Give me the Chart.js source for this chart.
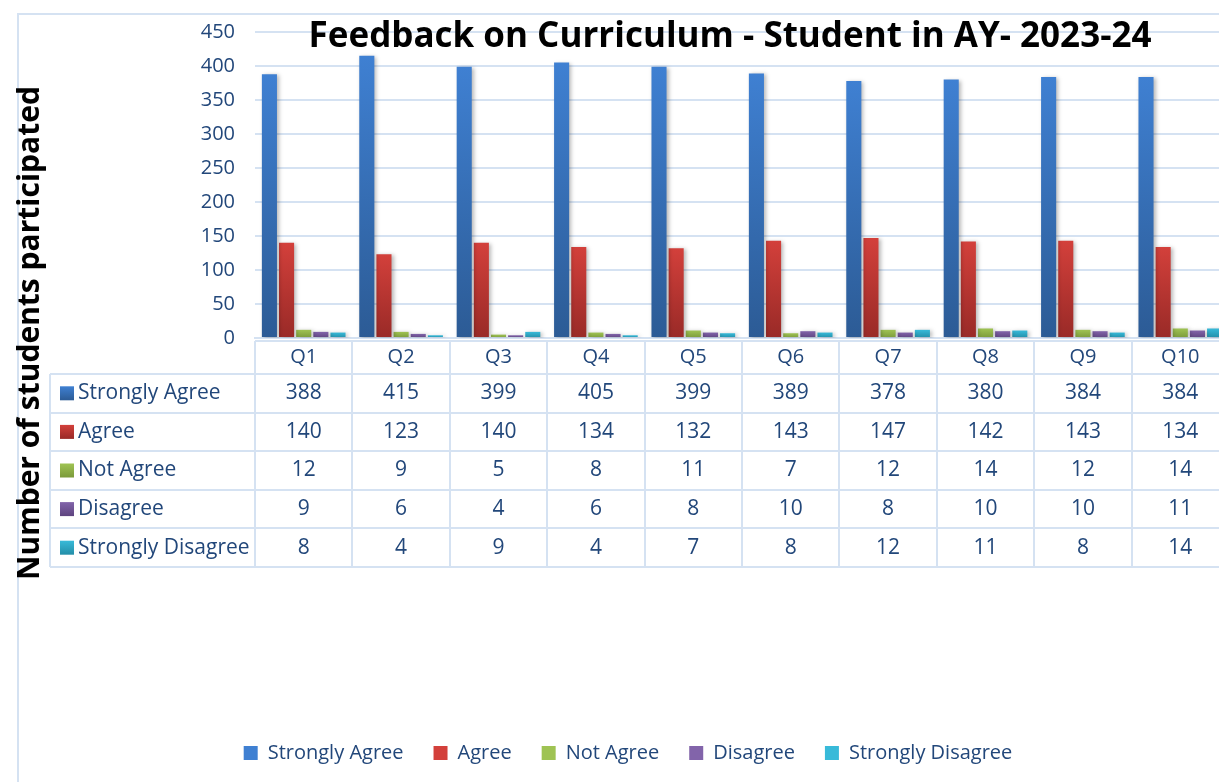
<!DOCTYPE html>
<html lang="en">
<head>
  <meta charset="UTF-8" />
  <title>Feedback on Curriculum - Student in AY- 2023-24</title>
  <script src="https://cdn.jsdelivr.net/npm/chart.js"></script>
  <style>
    html, body {
      margin: 0;
      padding: 0;
      background: #ffffff;
      overflow: hidden;
    }
    #chart {
      display: block;
    }
  </style>
</head>
<body>
  <canvas id="chart" width="1240" height="782"></canvas>

  <script>
    // data
    const questions = ['Q1', 'Q2', 'Q3', 'Q4', 'Q5', 'Q6', 'Q7', 'Q8', 'Q9', 'Q10'];
    const seriesNames = ['Strongly Agree', 'Agree', 'Not Agree', 'Disagree', 'Strongly Disagree'];
    const stronglyAgree = [388, 415, 399, 405, 399, 389, 378, 380, 384, 384];
    const agree = [140, 123, 140, 134, 132, 143, 147, 142, 143, 134];
    const notAgree = [12, 9, 5, 8, 11, 7, 12, 14, 12, 14];
    const disagree = [9, 6, 4, 6, 8, 10, 8, 10, 10, 11];
    const stronglyDisagree = [8, 4, 9, 4, 7, 8, 12, 11, 8, 14];
    const yTicks = [0, 50, 100, 150, 200, 250, 300, 350, 400, 450];

    const chartTitle = 'Feedback on Curriculum - Student in AY- 2023-24';
    const yTitle = 'Number of students participated';

    const seriesValues = [stronglyAgree, agree, notAgree, disagree, stronglyDisagree];
    // top / bottom colours of the bar gradients
    const palette = [
      ['#3f80d2', '#2c5b95'],
      ['#d3403b', '#992a27'],
      ['#9fc353', '#7b9a3a'],
      ['#8264aa', '#5e447f'],
      ['#38bad9', '#238ea8']
    ];

    const textColor = '#22477a';
    const lineColor = '#d5e2f2';
    const font = "'Open Sans', 'Noto Sans', sans-serif";

    function barFill(ctx) {
      const chart = ctx.chart;
      const c = palette[ctx.datasetIndex];
      const yScale = chart.scales && chart.scales.y;
      if (!yScale || !ctx.parsed) return c[0];
      const top = yScale.getPixelForValue(ctx.parsed.y);
      const bottom = yScale.getPixelForValue(0);
      if (!isFinite(top) || bottom - top < 1) return c[0];
      const g = chart.ctx.createLinearGradient(0, top, 0, bottom);
      g.addColorStop(0, c[0]);
      g.addColorStop(1, c[1]);
      return g;
    }

    // outer frame, data table, overlaid title and the vertical axis title
    const decorations = {
      id: 'decorations',
      beforeDraw(chart) {
        const ctx = chart.ctx;
        ctx.save();
        ctx.strokeStyle = lineColor;
        ctx.lineWidth = 2;
        ctx.beginPath();
        ctx.moveTo(18, chart.height);
        ctx.lineTo(18, 14);
        ctx.lineTo(chart.width, 14);
        ctx.stroke();
        ctx.restore();
      },
      beforeDatasetsDraw(chart) {
        const ctx = chart.ctx;
        ctx.save();
        ctx.shadowColor = 'rgba(0,0,0,0.28)';
        ctx.shadowBlur = 4;
        ctx.shadowOffsetX = 2;
        ctx.shadowOffsetY = 1;
      },
      afterDatasetsDraw(chart) {
        chart.ctx.restore();
      },
      afterDraw(chart) {
        const ctx = chart.ctx;
        const x = chart.scales.x;
        const area = chart.chartArea;
        const colW = (x.right - x.left) / questions.length;
        const top = area.bottom + 3;
        const headH = 33;
        const rowH = 38.6;
        const tableLeft = 50;
        const bottom = top + headH + rowH * seriesNames.length;

        ctx.save();
        ctx.strokeStyle = lineColor;
        ctx.lineWidth = 2;
        ctx.beginPath();
        ctx.moveTo(x.left, top);
        ctx.lineTo(x.right, top);
        for (let r = 0; r <= seriesNames.length; r++) {
          const y = Math.round(top + headH + r * rowH);
          ctx.moveTo(tableLeft, y);
          ctx.lineTo(x.right, y);
        }
        for (let i = 0; i <= questions.length; i++) {
          const cx = Math.round(x.left + i * colW);
          ctx.moveTo(cx, top);
          ctx.lineTo(cx, bottom);
        }
        ctx.moveTo(tableLeft, top + headH);
        ctx.lineTo(tableLeft, bottom);
        ctx.stroke();

        ctx.font = '21px ' + font;
        ctx.fillStyle = textColor;
        ctx.textBaseline = 'middle';
        seriesNames.forEach((name, r) => {
          const cy = top + headH + r * rowH + rowH / 2;
          const g = ctx.createLinearGradient(0, cy - 7, 0, cy + 7);
          g.addColorStop(0, palette[r][0]);
          g.addColorStop(1, palette[r][1]);
          ctx.fillStyle = g;
          ctx.fillRect(60, cy - 7, 14, 14);
          ctx.fillStyle = textColor;
          ctx.textAlign = 'left';
          ctx.fillText(name, 78, cy);
          ctx.textAlign = 'center';
          seriesValues[r].forEach((v, i) => {
            ctx.fillText(String(v), x.getPixelForTick(i), cy);
          });
        });

        ctx.fillStyle = '#000000';
        ctx.font = 'bold 35px ' + font;
        ctx.textAlign = 'center';
        ctx.fillText(chartTitle, 730, 37);

        ctx.translate(30, 333);
        ctx.rotate(-Math.PI / 2);
        ctx.font = 'bold 30px ' + font;
        ctx.fillText(yTitle, 0, 0);
        ctx.restore();
      }
    };

    const datasets = seriesNames.map((name, i) => ({
      label: name,
      data: seriesValues[i],
      backgroundColor: barFill,
      borderWidth: 0,
      categoryPercentage: 0.88,
      barPercentage: 0.88
    }));

    new Chart(document.getElementById('chart'), {
      type: 'bar',
      data: { labels: questions, datasets: datasets },
      plugins: [decorations],
      options: {
        responsive: false,
        animation: false,
        devicePixelRatio: 1,
        layout: { padding: { left: 27, top: 32, right: 11, bottom: 9 } },
        plugins: {
          title: { display: false },
          tooltip: { enabled: false },
          legend: {
            position: 'bottom',
            labels: {
              color: textColor,
              font: { family: font, size: 20 },
              boxWidth: 14,
              boxHeight: 14,
              padding: 30,
              generateLabels(chart) {
                return seriesNames.map((name, i) => ({
                  text: name,
                  fillStyle: palette[i][0],
                  strokeStyle: palette[i][0],
                  lineWidth: 0,
                  fontColor: textColor,
                  datasetIndex: i,
                  hidden: false
                }));
              }
            }
          }
        },
        scales: {
          x: {
            grid: { display: false, drawTicks: false },
            border: { display: true, color: lineColor, width: 2 },
            ticks: {
              color: textColor,
              font: { family: font, size: 20 },
              padding: 7
            },
            afterFit(scale) { scale.height = 375; }
          },
          y: {
            min: 0,
            max: 450,
            afterBuildTicks(scale) {
              scale.ticks = yTicks.map(v => ({ value: v }));
            },
            grid: { color: lineColor, lineWidth: 2, drawTicks: false },
            border: { display: false },
            ticks: {
              color: textColor,
              font: { family: font, size: 20 },
              padding: 20
            },
            afterFit(scale) { scale.width = 228; }
          }
        }
      }
    });
  </script>
</body>
</html>
